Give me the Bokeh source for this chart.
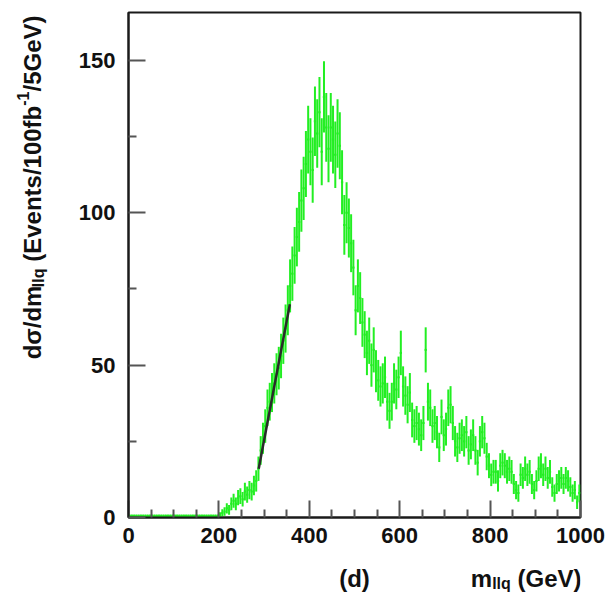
import math
from bokeh.plotting import figure
from bokeh.layouts import row, column
from bokeh.models import Range1d, FixedTicker, ColumnDataSource
from bokeh.core.properties import value
from bokeh.embed import file_html
from bokeh.resources import INLINE

# ---------------- data ----------------
bin_width = 5.0
bin_low = [5.0 * i for i in range(200)]  # 0 ... 995 GeV bin lower edges

counts = [
    # 0 - 195 GeV
    0.5, 0.5, 0.5, 0.5, 0.5, 0.5, 0.5, 0.5, 0.5, 0.5,
    0.5, 0.5, 0.5, 0.5, 0.5, 0.5, 0.5, 0.5, 0.5, 0.5,
    0.5, 0.5, 0.5, 0.5, 0.5, 0.5, 0.5, 0.5, 0.5, 0.5,
    0.5, 0.5, 0.5, 0.5, 0.5, 0.5, 0.5, 0.5, 0.5, 0.5,
    # 200 - 280
    0.8, 1.5, 2, 3, 2.5, 4.5, 5.5, 4.5, 6.5, 7, 6, 8.5, 7.5, 9, 8.5, 10.5, 12,
    # 285 - 355
    16, 22, 26, 30, 36, 38, 41, 44, 47, 49, 53, 58, 62, 68, 76,
    # 360 - 470
    80, 86, 92, 97, 104, 108, 116, 124, 120, 114, 130, 126, 133, 120, 138, 128,
    121, 128, 124, 119, 126, 122, 110,
    # 475 - 495
    96, 100, 95, 90, 82,
    # 500 - 605
    68, 76, 72, 64, 60, 54, 58, 50, 55, 48, 45, 43, 44, 46, 38, 35, 38, 44, 42,
    46, 54, 43,
    # 610 - 700
    40, 37, 41, 32, 30, 31, 29, 27, 31, 55, 38, 36, 30, 31, 28, 23, 33, 27, 29,
    # 705 - 800
    36, 37, 31, 25, 23, 26, 27, 25, 28, 22, 24, 27, 22, 18, 25, 28, 26, 20, 17, 14,
    # 805 - 900
    15, 15, 12, 17, 18, 17, 15, 16, 15, 11, 9, 8, 14, 13, 16, 14, 15, 11, 9, 12,
    # 905 - 995
    16, 17, 14, 16, 13, 15, 10, 8, 11, 12, 13, 11, 13, 12, 10, 8, 9, 5, 8,
]

errors = [
    # 0 - 195 GeV
    0.5, 0.5, 0.5, 0.5, 0.5, 0.5, 0.5, 0.5, 0.5, 0.5,
    0.5, 0.5, 0.5, 0.5, 0.5, 0.5, 0.5, 0.5, 0.5, 0.5,
    0.5, 0.5, 0.5, 0.5, 0.5, 0.5, 0.5, 0.5, 0.5, 0.5,
    0.5, 0.5, 0.5, 0.5, 0.5, 0.5, 0.5, 0.5, 0.5, 0.5,
    # 200 - 280
    0.9, 1.2, 1.4, 1.7, 1.6, 2.1, 2.3, 2.1, 2.5, 2.6, 2.4, 2.9, 2.7, 3.0, 2.9, 3.2, 3.5,
    # 285 - 355
    4.0, 4.7, 5.1, 5.5, 6.0, 6.2, 6.4, 6.6, 6.9, 7.0, 7.3, 7.6, 7.9, 8.2, 8.7,
    # 360 - 470
    8.9, 9.3, 9.6, 9.8, 10.2, 10.4, 10.8, 11.1, 11.0, 10.7, 11.4, 11.2, 11.5, 11.0,
    11.7, 11.3, 11.0, 11.3, 11.1, 10.9, 11.2, 11.0, 10.5,
    # 475 - 495
    9.8, 10.0, 9.7, 9.5, 9.1,
    # 500 - 605
    8.2, 8.7, 8.5, 8.0, 7.7, 7.3, 7.6, 7.1, 7.4, 6.9, 6.7, 6.6, 6.6, 6.8, 6.2, 5.9,
    6.2, 6.6, 6.5, 6.8, 7.3, 6.6,
    # 610 - 700
    6.3, 6.1, 6.4, 5.7, 5.5, 5.6, 5.4, 5.2, 5.6, 7.4, 6.2, 6.0, 5.5, 5.6, 5.3, 4.8,
    5.7, 5.2, 5.4,
    # 705 - 800
    6.0, 6.1, 5.6, 5.0, 4.8, 5.1, 5.2, 5.0, 5.3, 4.7, 4.9, 5.2, 4.7, 4.2, 5.0, 5.3,
    5.1, 4.5, 4.1, 3.7,
    # 805 - 900
    3.9, 3.9, 3.5, 4.1, 4.2, 4.1, 3.9, 4.0, 3.9, 3.3, 3.0, 2.8, 3.7, 3.6, 4.0, 3.7,
    3.9, 3.3, 3.0, 3.5,
    # 905 - 995
    4.0, 4.1, 3.7, 4.0, 3.6, 3.9, 3.2, 2.8, 3.3, 3.5, 3.6, 3.3, 3.6, 3.5, 3.2, 2.8,
    3.0, 2.2, 2.8,
]

# straight-line fit drawn on the rising edge
fit_x = [288, 357]
fit_y = [16, 70]

x_major = [0, 200, 400, 600, 800, 1000]
x_minor = [50, 100, 150, 250, 300, 350, 450, 500, 550, 650, 700, 750, 850, 900, 950]
y_major = [0, 50, 100, 150]
y_minor = [25, 75, 125]

# ---------------- layout geometry (pixels of the whole page) ----------------
W, H = 613, 601
YT_W = 58            # strip at the left holding the y title
XT_H = 41            # strip at the bottom holding the x title
FL, FR, FT, FB = 128, 580, 12, 517   # plot frame on the page
MW, MH = W - YT_W, H - XT_H
XR = Range1d(0, 1000)
YR = Range1d(0, 165.7)

FONT = "Liberation Sans"
TXT = "#111111"

p = figure(width=MW, height=MH, output_backend="svg", toolbar_location=None,
           x_range=XR, y_range=YR,
           min_border_left=FL - YT_W, min_border_right=W - FR,
           min_border_top=FT, min_border_bottom=MH - FB)
p.background_fill_color = "white"
p.border_fill_color = "white"
p.outline_line_color = "#1a1a1a"
p.outline_line_width = 2
p.xgrid.visible = False
p.ygrid.visible = False

for ax, maj, mino in ((p.xaxis, x_major, x_minor), (p.yaxis, y_major, y_minor)):
    ax.ticker = FixedTicker(ticks=maj, minor_ticks=mino)
    ax.axis_line_color = "#1a1a1a"
    ax.axis_line_width = 2
    ax.major_tick_in = 17
    ax.major_tick_out = 0
    ax.minor_tick_in = 8
    ax.minor_tick_out = 0
    ax.major_tick_line_color = "#555555"
    ax.major_tick_line_width = 2
    ax.minor_tick_line_color = "#555555"
    ax.minor_tick_line_width = 2
    ax.major_label_text_font = FONT
    ax.major_label_text_font_style = "bold"
    ax.major_label_text_font_size = "22px"
    ax.major_label_text_color = TXT
p.xaxis.major_label_standoff = 10
p.yaxis.major_label_standoff = 13

# ---------------- histogram with error bars ----------------
src = ColumnDataSource(dict(
    xc=[b + bin_width / 2 for b in bin_low],
    lo=bin_low,
    hi=[b + bin_width for b in bin_low],
    y=counts,
    ylo=[c - e for c, e in zip(counts, errors)],
    yhi=[c + e for c, e in zip(counts, errors)],
))
GREEN = "#22ee22"
p.segment(x0="xc", y0="ylo", x1="xc", y1="yhi", source=src,
          line_color=GREEN, line_width=2)
p.segment(x0="lo", y0="y", x1="hi", y1="y", source=src,
          line_color=GREEN, line_width=2)
p.line(fit_x, fit_y, line_color="#2a2a2a", line_width=2.5)

# ---------------- titles (pieces for sub/superscripts) ----------------
AW = {" ": 278, "(": 333, ")": 333, "/": 278, "-": 333, "0": 556, "1": 556,
      "5": 556, "E": 667, "G": 778, "V": 667, "b": 611, "d": 611, "e": 556,
      "f": 333, "l": 278, "m": 889, "n": 611, "q": 611, "s": 556, "t": 333,
      "v": 556, "σ": 620}


def tw(s, size):
    return sum(AW.get(ch, 556) for ch in s) / 1000.0 * size


def dx(px):
    return (px - FL) / (FR - FL) * (XR.end - XR.start) + XR.start


def dy(py):
    return (FB - py) / (FB - FT) * (YR.end - YR.start) + YR.start


def strip(w, h, xr, yr, bl, br, bt, bb):
    f = figure(width=w, height=h, output_backend="svg", toolbar_location=None,
               x_range=xr, y_range=yr,
               min_border_left=bl, min_border_right=br, min_border_top=bt,
               min_border_bottom=bb, x_axis_type=None, y_axis_type=None)
    f.outline_line_color = None
    f.background_fill_color = "white"
    f.border_fill_color = "white"
    f.xgrid.visible = False
    f.ygrid.visible = False
    return f


F = 24
FS = 16

# y title: rotated, reading upwards, its end near the frame top
ys = strip(YT_W, MH, Range1d(0, YT_W), YR, 0, 0, FT, MH - FB)
y_pieces = [("dσ/dm", F, 0, 0), ("llq", FS, 6, 0), ("(Events/100fb", F, 0, tw(" ", F)),
            ("-1", FS, -10, 0), ("/5GeV)", F, 0, 0)]
total = sum(tw(s, sz) + gap for s, sz, _, gap in y_pieces)
base_x = 32
py = 15 + total
for s, sz, shift, gap in y_pieces:
    py -= gap
    ys.text(x=[base_x + shift], y=[dy(py)], text=[s], angle=math.pi / 2,
            text_align="left", text_baseline="alphabetic",
            text_font=value(FONT), text_font_style="bold",
            text_font_size=value(f"{sz}px"), text_color=TXT)
    py -= tw(s, sz)

# x title strip: "(d)" and m_llq (GeV) right aligned to the frame
xs = strip(W, XT_H, XR, Range1d(0, XT_H), FL, W - FR, 0, 0)
base_py = 578
x_pieces = [("m", F, 0, 0), ("llq", FS, 5, 0), ("(GeV)", F, 0, tw(" ", F))]
total = sum(tw(s, sz) + gap for s, sz, _, gap in x_pieces)
px = 581 - total
for s, sz, shift, gap in x_pieces:
    px += gap
    xs.text(x=[dx(px)], y=[H - (base_py + shift)], text=[s],
            text_align="left", text_baseline="alphabetic",
            text_font=value(FONT), text_font_style="bold",
            text_font_size=value(f"{sz}px"), text_color=TXT)
    px += tw(s, sz)
xs.text(x=[dx(354)], y=[H - base_py], text=["(d)"], text_align="center",
        text_baseline="alphabetic", text_font=value(FONT),
        text_font_style="bold", text_font_size=value(f"{F}px"), text_color=TXT)

layout = column(row(ys, p, spacing=0), xs, spacing=0)
open("out.html", "w").write(file_html(layout, INLINE))
